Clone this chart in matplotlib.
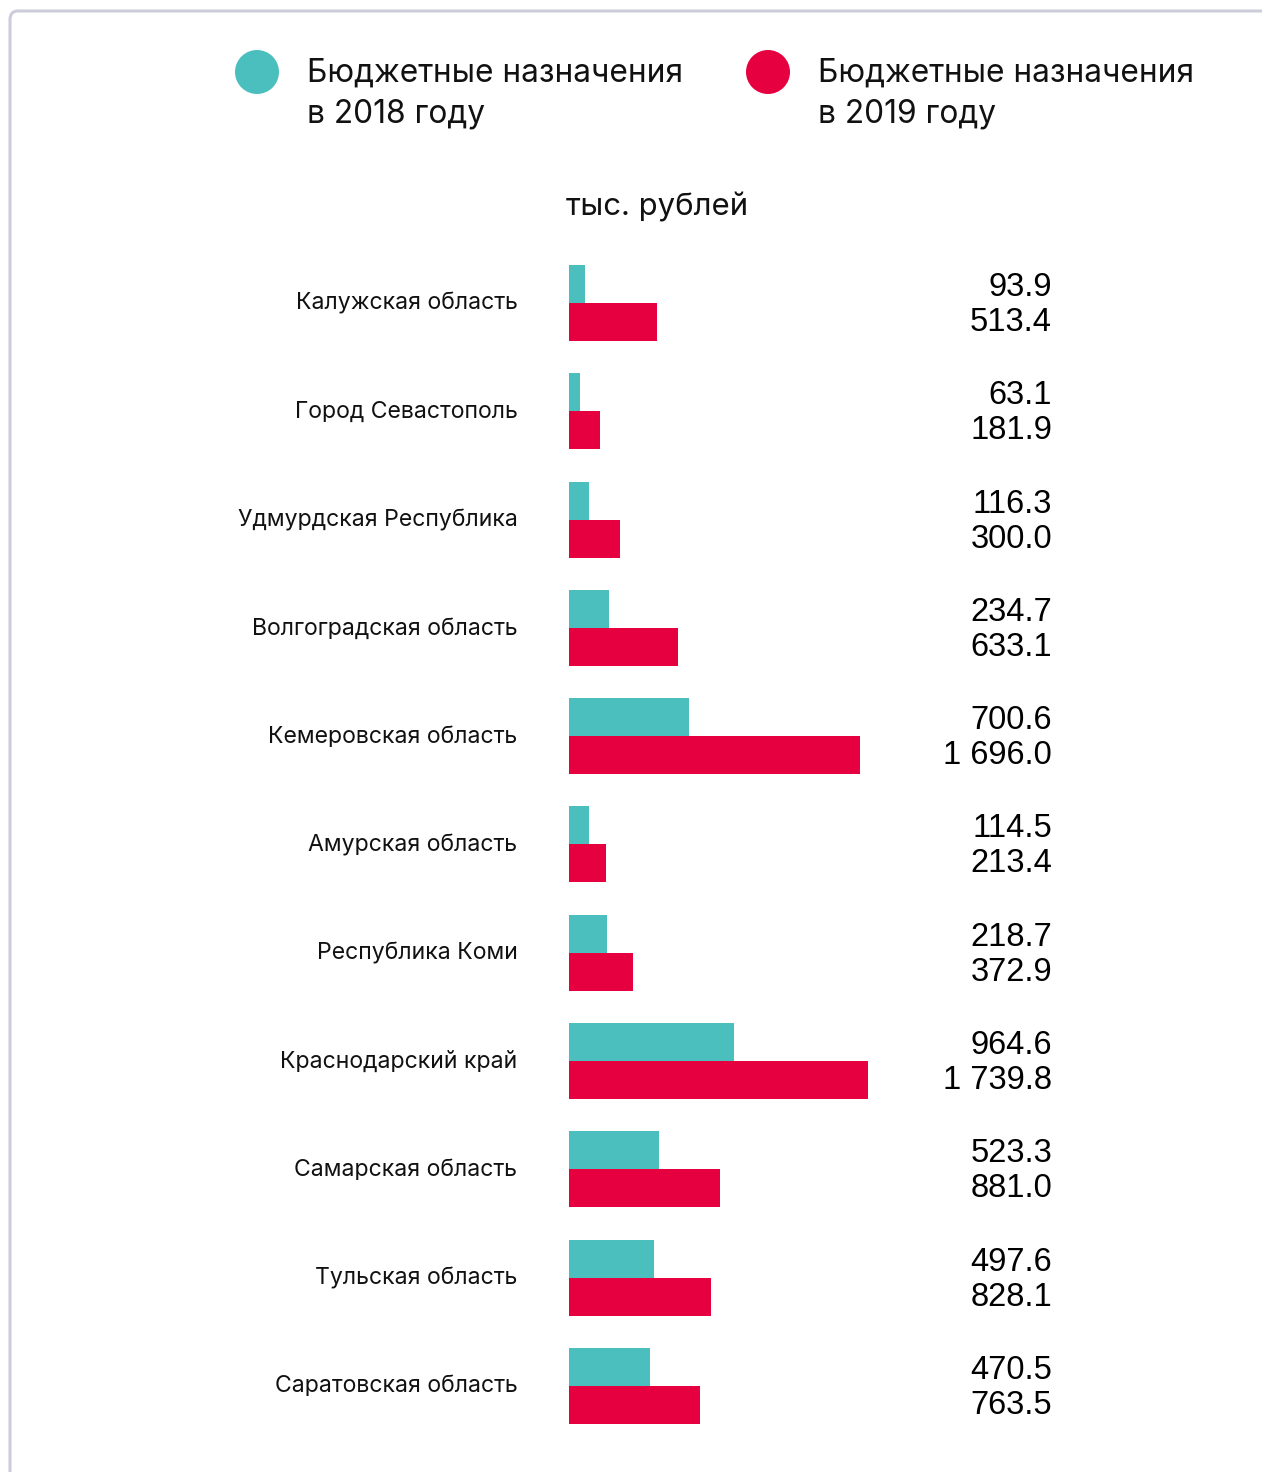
import matplotlib
matplotlib.use("Agg")
import matplotlib.pyplot as plt
from matplotlib.patches import FancyBboxPatch, Ellipse

regions = ["Калужская область", "Город Севастополь", "Удмурдская Республика",
           "Волгоградская область", "Кемеровская область", "Амурская область",
           "Республика Коми", "Краснодарский край", "Самарская область",
           "Тульская область", "Саратовская область"]
values_2018 = [93.9, 63.1, 116.3, 234.7, 700.6, 114.5, 218.7, 964.6, 523.3, 497.6, 470.5]
values_2019 = [513.4, 181.9, 300.0, 633.1, 1696.0, 213.4, 372.9, 1739.8, 881.0, 828.1, 763.5]
legend_labels = ["Бюджетные назначения\nв 2018 году", "Бюджетные назначения\nв 2019 году"]
unit_label = "тыс. рублей"

TEAL = "#4BBEBE"
RED = "#E6003F"
W, H = 1262, 1472

fig = plt.figure(figsize=(W / 100, H / 100), dpi=100)
fig.patch.set_facecolor("white")

def fx(x):
    return x / W

def fy(y):
    return 1 - y / H

# border frame
frame = FancyBboxPatch((fx(10), fy(1500)), fx(1300), (1500 - 11) / H,
                       boxstyle="round,pad=0,rounding_size=0.006",
                       transform=fig.transFigure, facecolor="none",
                       edgecolor="#CCCCDA", linewidth=2.2, clip_on=False)
fig.patches.append(frame)

# axes: x from 569 to 1052 px, y category centres at 303 + 108.3*i
row = 108.3
top = 303 - 0.5 * row
bottom = 303 + 10.5 * row
ax = fig.add_axes([fx(569), fy(bottom), (1052 - 569) / W, (bottom - top) / H])
scale = 298.5 / 1739.8
ax.set_xlim(0, (1052 - 569) / scale)
ax.set_ylim(10.5, -0.5)
ax.axis("off")

bh = 38 / row
ys = list(range(len(regions)))
ax.barh([y - bh / 2 for y in ys], values_2018, height=bh, color=TEAL, linewidth=0)
ax.barh([y + bh / 2 for y in ys], values_2019, height=bh, color=RED, linewidth=0)

def fmt(v):
    return f"{v:,.1f}".replace(",", " ")

tr = ax.get_yaxis_transform()
for y, a, b, name in zip(ys, values_2018, values_2019, regions):
    ax.text(1.0, y - 7 / row, fmt(a), transform=tr, ha="right", va="baseline",
            fontsize=23.5, family="Liberation Sans", color="black")
    ax.text(1.0, y + 28 / row, fmt(b), transform=tr, ha="right", va="baseline",
            fontsize=23.5, family="Liberation Sans", color="black")
    fig.text(fx(517.5), fy(303 + row * y + 6.5), name, ha="right", va="baseline",
             fontsize=16.6, family="Inter", color="#111111")

# legend
for cx, col, lab in [(257, TEAL, legend_labels[0]), (768, RED, legend_labels[1])]:
    fig.patches.append(Ellipse((fx(cx), fy(72)), 44 / W, 44 / H,
                               transform=fig.transFigure,
                               facecolor=col, edgecolor="none"))
    l1, l2 = lab.split("\n")
    fig.text(fx(cx + 50), fy(82), l1, ha="left", va="baseline", fontsize=22.8,
             family="Inter", color="#111111")
    fig.text(fx(cx + 50), fy(122.5), l2, ha="left", va="baseline", fontsize=22.8,
             family="Inter", color="#111111")

fig.text(fx(566), fy(215), unit_label, ha="left", va="baseline", fontsize=22.4,
         family="Inter", color="#111111")

fig.savefig("out.png", dpi=100, facecolor="white")
